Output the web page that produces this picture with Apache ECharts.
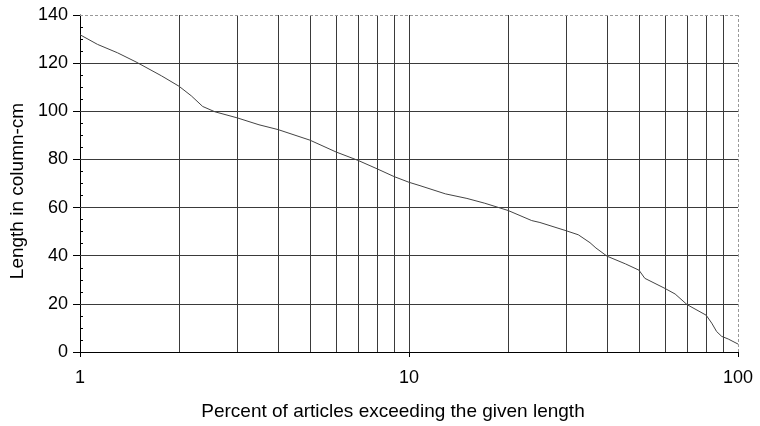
<!DOCTYPE html>
<html>
<head>
<meta charset="utf-8">
<script src="https://cdn.jsdelivr.net/npm/echarts@6/dist/echarts.min.js"></script>
<style>html,body{margin:0;padding:0;background:#fff}#c{width:760px;height:426px}</style>
</head>
<body>
<div id="c"></div>
<script>
// Percent of articles exceeding the given length (x, log) vs length in column-cm (y)
const percentValues = [1, 1.13, 1.3, 1.48, 1.77, 2, 2.18, 2.36, 2.57, 3, 3.5, 4, 5, 6, 7, 8, 9, 10, 10.8, 12.9, 15, 17, 20, 23.6, 25, 30, 32.7, 35.5, 37, 40, 45.5, 50, 52.1, 60, 64.4, 70, 80, 83.2, 86.1, 89.2, 93.4, 100];
const lengthValues  = [131.8, 127.8, 124.3, 120.5, 114.7, 110.4, 106.4, 102.0, 99.8, 97.3, 94.4, 92.4, 88.0, 83.1, 79.6, 76.1, 72.9, 70.5, 69.1, 65.7, 63.8, 61.8, 58.8, 54.6, 53.8, 50.4, 48.7, 45.4, 43.2, 39.8, 36.6, 34.0, 30.6, 26.4, 24.1, 19.7, 15.3, 12.0, 8.5, 6.5, 5.4, 3.3];
const xGridValues = [2, 3, 4, 5, 6, 7, 8, 9, 10, 20, 30, 40, 50, 60, 70, 80, 90];
const yGridValues = [20, 40, 60, 80, 100, 120];
const xBorderValue = 100;
const yBorderValue = 140;
const xAxisTitle = 'Percent of articles exceeding the given length';
const yAxisTitle = 'Length in column-cm';

const FONT = 'Arial, "Liberation Sans", sans-serif';
const gridColor = '#3a3a3a';
const borderStyle = { color: '#999', width: 1, type: [3, 2] };

const markData = [];
xGridValues.forEach(v => markData.push({ xAxis: v }));
yGridValues.forEach(v => markData.push({ yAxis: v }));
markData.push({ xAxis: xBorderValue, lineStyle: borderStyle });
markData.push({ yAxis: yBorderValue, lineStyle: borderStyle });

const chart = echarts.init(document.getElementById('c'), null, { renderer: 'canvas' });
chart.setOption({
  animation: false,
  backgroundColor: '#fff',
  grid: { left: 80, right: 22, top: 15, bottom: 72, containLabel: false },
  xAxis: {
    type: 'log', logBase: 10, min: 1, max: 100,
    name: xAxisTitle, nameLocation: 'middle', nameGap: 50,
    nameTextStyle: { fontFamily: FONT, fontSize: 19, color: '#000', padding: [0, 32, 0, 0] },
    axisLine: { show: true, lineStyle: { color: '#000', width: 1 } },
    axisTick: { show: true, length: 5, lineStyle: { color: '#000' } },
    axisLabel: { fontFamily: FONT, fontSize: 18, color: '#000', margin: 17 },
    splitLine: { show: false },
    minorTick: { show: false }
  },
  yAxis: [{
    type: 'value', min: 0, max: 140, interval: 20,
    name: yAxisTitle, nameLocation: 'middle', nameGap: 47,
    nameTextStyle: { fontFamily: FONT, fontSize: 19, color: '#000', padding: [0, 15, 0, 0] },
    axisLine: { show: true, lineStyle: { color: '#000', width: 1 } },
    axisTick: { show: true, length: 7, lineStyle: { color: '#000' } },
    axisLabel: { fontFamily: FONT, fontSize: 18, color: '#000', margin: 12 },
    splitLine: { show: false }
  }, {
    type: 'value', min: 0, max: 140, interval: 20, position: 'left', offset: 0,
    axisLine: { show: false },
    axisTick: { show: false, inside: true, length: 3 },
    axisLabel: { show: false },
    minorTick: { show: true, splitNumber: 4, length: 3, lineStyle: { color: '#000' } },
    splitLine: { show: false }
  }],
  series: [{
    type: 'line',
    data: percentValues.map((x, i) => [x, lengthValues[i]]),
    showSymbol: false, symbol: 'none', smooth: false,
    lineStyle: { color: '#444', width: 1 },
    z: 5,
    markLine: {
      silent: true, symbol: ['none', 'none'], animation: false,
      label: { show: false },
      lineStyle: { color: gridColor, width: 1, type: 'solid' },
      emphasis: { disabled: true },
      data: markData
    }
  }]
});
</script>
</body>
</html>
